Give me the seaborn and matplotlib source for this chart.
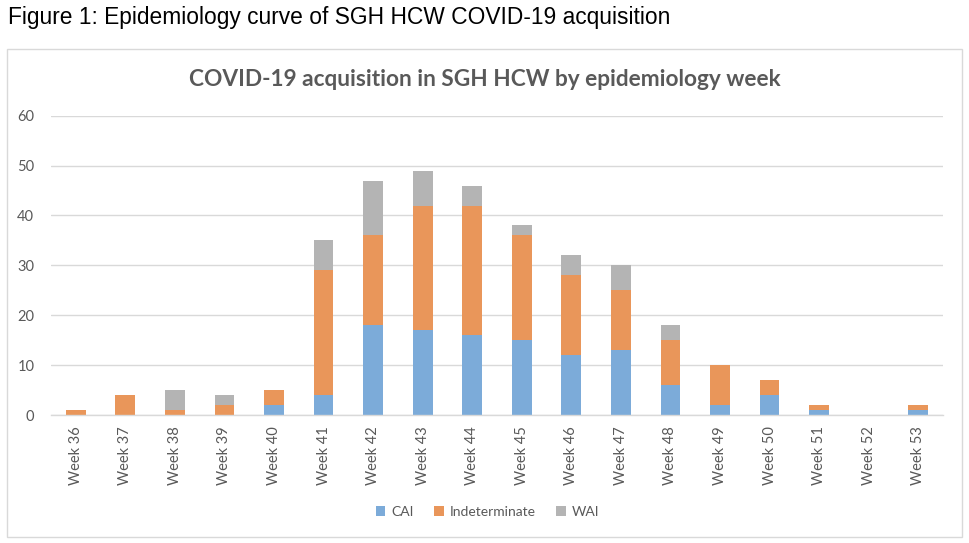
import matplotlib
matplotlib.use("Agg")
import matplotlib.pyplot as plt
from matplotlib.patches import Rectangle, Patch
import seaborn as sns
import pandas as pd
import numpy as np

weeks = ["Week 36", "Week 37", "Week 38", "Week 39", "Week 40", "Week 41", "Week 42",
         "Week 43", "Week 44", "Week 45", "Week 46", "Week 47", "Week 48", "Week 49",
         "Week 50", "Week 51", "Week 52", "Week 53"]
cai = [0, 0, 0, 0, 2, 4, 18, 17, 16, 15, 12, 13, 6, 2, 4, 1, 0, 1]
indeterminate = [1, 4, 1, 2, 3, 25, 18, 25, 26, 21, 16, 12, 9, 8, 3, 1, 0, 1]
wai = [0, 0, 4, 2, 0, 6, 11, 7, 4, 2, 4, 5, 3, 0, 0, 0, 0, 0]

series_names = ["CAI", "Indeterminate", "WAI"]
colors = {"CAI": "#7CABD9", "Indeterminate": "#E9965A", "WAI": "#B4B4B4"}

df = pd.DataFrame({"week": weeks, "CAI": cai, "Indeterminate": indeterminate, "WAI": wai})
df["lvl1"] = df["CAI"]
df["lvl2"] = df["CAI"] + df["Indeterminate"]
df["lvl3"] = df["lvl2"] + df["WAI"]

sns.set_style("white")
plt.rcParams["font.family"] = ["Lato", "DejaVu Sans"]

fig = plt.figure(figsize=(9.69, 5.43), dpi=100)
ax = fig.add_axes([0.0526, 0.2357, 0.9206, 0.5512])

for col, name in [("lvl3", "WAI"), ("lvl2", "Indeterminate"), ("lvl1", "CAI")]:
    sns.barplot(data=df, x="week", y=col, color=colors[name], width=0.4,
                saturation=1, ax=ax, order=weeks, linewidth=0, zorder=3)

ax.set_xlim(-0.5, len(weeks) - 0.5)
ax.set_ylim(0, 60)
ax.set_yticks(range(0, 61, 10))
ax.yaxis.grid(True, color="#D9D9D9", linewidth=1)
ax.set_axisbelow(True)
for s in ["top", "right", "left"]:
    ax.spines[s].set_visible(False)
ax.spines["bottom"].set_color("#D9D9D9")
ax.spines["bottom"].set_linewidth(1)
ax.spines["bottom"].set_zorder(4)
ax.tick_params(axis="both", length=0, colors="#595959", labelsize=10.5)
ax.tick_params(axis="y", pad=12)
ax.tick_params(axis="x", pad=8)
plt.setp(ax.get_xticklabels(), rotation=90)
ax.set_xlabel("")
ax.set_ylabel("")

fig.text(0.5, 0.8416, "COVID-19 acquisition in SGH HCW by epidemiology week",
         ha="center", va="baseline", fontsize=16.3, fontweight="bold", color="#595959")

fig.text(0.008, 0.9567, "Figure 1: Epidemiology curve of SGH HCW COVID-19 acquisition",
         ha="left", va="baseline", fontsize=16.4, color="#000000",
         family=["Liberation Sans", "DejaVu Sans"])

fig.patches.append(Rectangle((0.007, 0.011), 0.986, 0.899, transform=fig.transFigure,
                             fill=False, edgecolor="#D9D9D9", linewidth=1))

handles = [Patch(facecolor=colors[n], edgecolor="none", label=n) for n in series_names]
fig.legend(handles=handles, loc="center", bbox_to_anchor=(0.503, 0.058), ncol=3,
           frameon=False, fontsize=10, handlelength=0.7, handleheight=0.7,
           handletextpad=0.4, columnspacing=1.5, labelcolor="#595959")

fig.savefig("out.png", dpi=100)
